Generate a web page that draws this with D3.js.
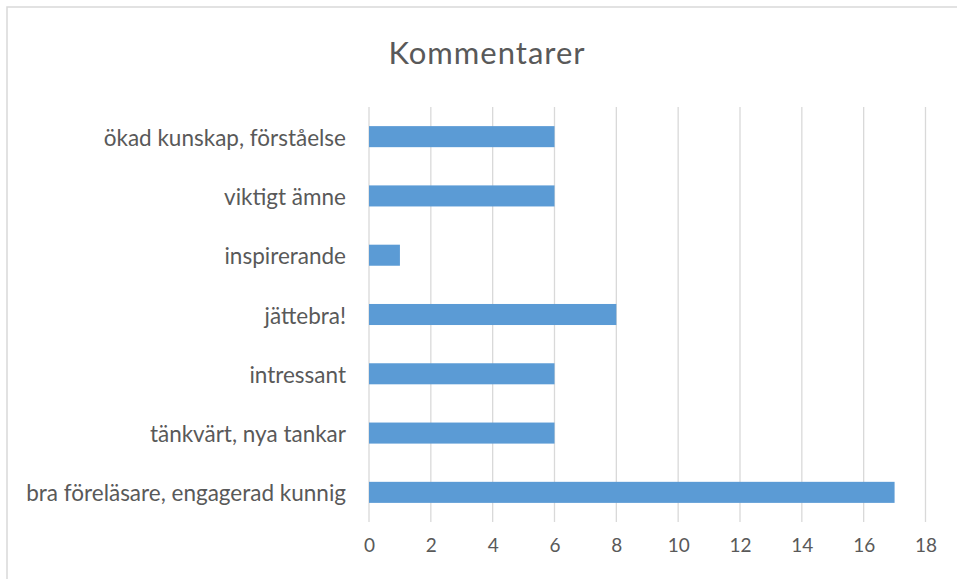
<!DOCTYPE html>
<html>
  <head>
    <meta charset="utf-8">
    <title>Kommentarer</title>
    <script src="https://d3js.org/d3.v7.min.js"></script>
  </head>

  <style>
    body {
      margin: 0;
      background-color: white;
    }
    text {
      font-family: Lato, 'Open Sans', sans-serif;
      fill: #595959;
    }
  </style>

  <body>
    <div id="chart"></div>
    <script>

    // categories top to bottom, as in the picture
    var categories = [
      'ökad kunskap, förståelse',
      'viktigt ämne',
      'inspirerande',
      'jättebra!',
      'intressant',
      'tänkvärt, nya tankar',
      'bra föreläsare, engagerad kunnig'
    ];
    var counts = [6, 6, 1, 8, 6, 6, 17];
    var xTicks = [0, 2, 4, 6, 8, 10, 12, 14, 16, 18];

    var W = 957, H = 579;
    var plot = { left: 369, right: 925.5, top: 107, bottom: 522 };

    var svg = d3.select('#chart').append('svg')
      .attr('width', W)
      .attr('height', H);

    // chart frame (only top and left visible in the crop)
    svg.append('rect')
      .attr('x', 7).attr('y', 7)
      .attr('width', W + 10).attr('height', H + 10)
      .attr('fill', 'white')
      .attr('stroke', '#d9d9d9')
      .attr('stroke-width', 1.5);

    var xScale = d3.scaleLinear()
      .domain([0, 18])
      .range([plot.left, plot.right]);

    var yScale = d3.scaleBand()
      .domain(categories)
      .range([plot.top, plot.bottom])
      .paddingInner(0.645)
      .paddingOuter(0.3225);

    // grid lines
    svg.append('g')
      .selectAll('line')
      .data(xTicks)
      .enter().append('line')
      .attr('x1', function(d){ return xScale(d); })
      .attr('x2', function(d){ return xScale(d); })
      .attr('y1', plot.top)
      .attr('y2', plot.bottom)
      .attr('stroke', '#d9d9d9')
      .attr('stroke-width', 1.3);

    // bars
    svg.append('g')
      .selectAll('rect')
      .data(counts)
      .enter().append('rect')
      .attr('x', xScale(0))
      .attr('y', function(d, i){ return yScale(categories[i]); })
      .attr('width', function(d){ return xScale(d) - xScale(0); })
      .attr('height', yScale.bandwidth())
      .attr('fill', '#5b9bd5');

    // x axis labels
    var xAxis = d3.axisBottom(xScale)
      .tickValues(xTicks)
      .tickSize(0)
      .tickPadding(0);
    var xg = svg.append('g')
      .attr('transform', 'translate(0,552)')
      .call(xAxis);
    xg.select('.domain').remove();
    xg.selectAll('text')
      .attr('y', 0)
      .attr('dy', 0)
      .style('font-size', '19px')
      .style('font-family', "Lato, sans-serif")
      .attr('fill', '#595959');

    // y axis labels
    var yAxis = d3.axisLeft(yScale)
      .tickSize(0)
      .tickPadding(0);
    var yg = svg.append('g')
      .attr('transform', 'translate(346,0)')
      .call(yAxis);
    yg.select('.domain').remove();
    yg.selectAll('text')
      .attr('dy', '0.4em')
      .style('font-size', '22.5px')
      .style('font-family', "Lato, sans-serif")
      .attr('fill', '#595959');

    // title
    svg.append('text')
      .attr('x', 487)
      .attr('y', 64)
      .attr('text-anchor', 'middle')
      .style('font-size', '31px')
      .style('letter-spacing', '1px')
      .text('Kommentarer');

    </script>
  </body>
</html>
